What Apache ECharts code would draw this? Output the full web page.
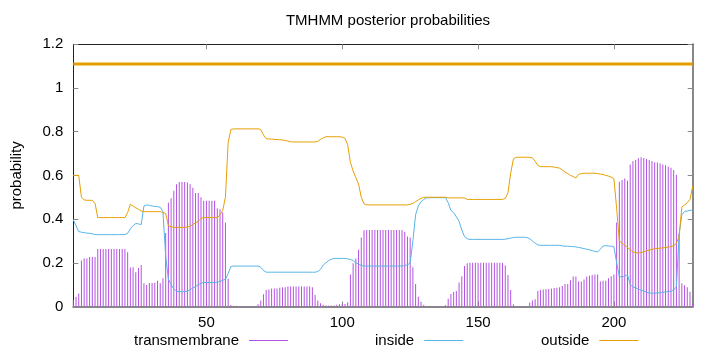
<!DOCTYPE html>
<html>
<head>
<meta charset="utf-8">
<script src="https://cdn.jsdelivr.net/npm/echarts@6/dist/echarts.min.js"></script>
<style>
  html, body { margin: 0; padding: 0; background: #fff; }
  #chart { width: 720px; height: 352px; }
</style>
</head>
<body>
<div id="chart"></div>
<script>
// posterior probability per residue (1..229)
const transmembrane = [
  0.03, 0.045, 0.06, 0.21, 0.22, 0.22, 0.227, 0.227, 0.227, 0.263,
  0.263, 0.263, 0.263, 0.263, 0.263, 0.263, 0.263, 0.263, 0.263, 0.263,
  0.248, 0.178, 0.18, 0.157, 0.176, 0.19, 0.106, 0.098, 0.107, 0.107,
  0.109, 0.118, 0.106, 0.129, 0.336, 0.475, 0.495, 0.53, 0.56, 0.57,
  0.57, 0.57, 0.568, 0.56, 0.544, 0.52, 0.52, 0.5, 0.484, 0.484,
  0.484, 0.484, 0.484, 0.45, 0.445, 0.43, 0.384, 0.127, 0.007, 0.004,
  0.003, 0.002, 0.002, 0.002, 0.002, 0.002, 0.002, 0.002, 0.01, 0.027,
  0.056, 0.075, 0.078, 0.082, 0.082, 0.082, 0.086, 0.088, 0.088, 0.092,
  0.092, 0.092, 0.092, 0.092, 0.092, 0.092, 0.092, 0.092, 0.088, 0.053,
  0.027, 0.015, 0.008, 0.005, 0.005, 0.005, 0.005, 0.008, 0.01, 0.011,
  0.012, 0.02, 0.147, 0.198, 0.22, 0.26, 0.316, 0.349, 0.35, 0.35,
  0.35, 0.35, 0.35, 0.35, 0.35, 0.35, 0.35, 0.35, 0.35, 0.35,
  0.35, 0.35, 0.342, 0.32, 0.316, 0.18, 0.103, 0.045, 0.022, 0.008,
  0.002, 0.002, 0.002, 0.002, 0.002, 0.002, 0.002, 0.006, 0.036, 0.057,
  0.066, 0.071, 0.11, 0.139, 0.185, 0.198, 0.2, 0.2, 0.2, 0.2,
  0.2, 0.2, 0.2, 0.2, 0.2, 0.2, 0.2, 0.2, 0.2, 0.188,
  0.144, 0.075, 0.01, 0.002, 0.002, 0.002, 0.002, 0.002, 0.018, 0.027,
  0.033, 0.072, 0.075, 0.078, 0.079, 0.08, 0.082, 0.085, 0.086, 0.088,
  0.094, 0.103, 0.103, 0.12, 0.137, 0.137, 0.114, 0.114, 0.124, 0.137,
  0.141, 0.144, 0.147, 0.147, 0.114, 0.118, 0.118, 0.129, 0.139, 0.147,
  0.385, 0.571, 0.579, 0.586, 0.576, 0.65, 0.666, 0.67, 0.678, 0.683,
  0.68, 0.675, 0.67, 0.666, 0.66, 0.659, 0.655, 0.65, 0.646, 0.64,
  0.635, 0.625, 0.603, 0.335, 0.106, 0.097, 0.088, 0.068, 0.01
];

const inside = [
  0.396, 0.37, 0.343, 0.34, 0.338, 0.336, 0.335, 0.333, 0.329, 0.329,
  0.329, 0.329, 0.329, 0.329, 0.329, 0.329, 0.329, 0.329, 0.329, 0.329,
  0.335, 0.355, 0.37, 0.38, 0.378, 0.375, 0.46, 0.465, 0.463, 0.46,
  0.458, 0.457, 0.454, 0.434, 0.23, 0.125, 0.1, 0.08, 0.07, 0.068,
  0.068, 0.068, 0.07, 0.077, 0.085, 0.09, 0.1, 0.106, 0.11, 0.11,
  0.11, 0.11, 0.11, 0.112, 0.115, 0.12, 0.124, 0.15, 0.183, 0.185,
  0.185, 0.185, 0.185, 0.185, 0.185, 0.185, 0.185, 0.185, 0.185, 0.18,
  0.165, 0.157, 0.157, 0.157, 0.157, 0.157, 0.157, 0.157, 0.157, 0.157,
  0.157, 0.157, 0.157, 0.157, 0.157, 0.157, 0.157, 0.157, 0.157, 0.157,
  0.16, 0.17, 0.19, 0.2, 0.21, 0.216, 0.22, 0.22, 0.22, 0.22,
  0.22, 0.218, 0.215, 0.21, 0.2, 0.195, 0.188, 0.185, 0.185, 0.185,
  0.185, 0.185, 0.185, 0.185, 0.185, 0.185, 0.185, 0.185, 0.185, 0.185,
  0.185, 0.185, 0.188, 0.19, 0.2, 0.3, 0.42, 0.46, 0.48, 0.49,
  0.497, 0.498, 0.498, 0.498, 0.498, 0.498, 0.498, 0.498, 0.475, 0.44,
  0.43, 0.41, 0.39, 0.35, 0.32, 0.31, 0.307, 0.307, 0.307, 0.307,
  0.307, 0.307, 0.307, 0.307, 0.307, 0.307, 0.307, 0.307, 0.307, 0.308,
  0.31, 0.313, 0.316, 0.317, 0.317, 0.317, 0.317, 0.316, 0.31, 0.3,
  0.29, 0.282, 0.28, 0.28, 0.28, 0.28, 0.28, 0.28, 0.28, 0.28,
  0.277, 0.276, 0.276, 0.275, 0.274, 0.273, 0.27, 0.268, 0.265, 0.262,
  0.26, 0.256, 0.252, 0.25, 0.262, 0.277, 0.278, 0.277, 0.276, 0.274,
  0.2, 0.137, 0.135, 0.14, 0.145, 0.1, 0.09, 0.085, 0.08, 0.075,
  0.07, 0.065, 0.062, 0.061, 0.061, 0.062, 0.063, 0.065, 0.067, 0.068,
  0.07, 0.075, 0.09, 0.33, 0.42, 0.435, 0.437, 0.44, 0.442
];

const outside = [
  0.6, 0.6, 0.6, 0.5, 0.488, 0.486, 0.486, 0.486, 0.472, 0.407,
  0.407, 0.407, 0.407, 0.407, 0.407, 0.407, 0.407, 0.407, 0.407, 0.407,
  0.43, 0.468, 0.46, 0.452, 0.445, 0.437, 0.434, 0.434, 0.434, 0.434,
  0.434, 0.434, 0.434, 0.43, 0.426, 0.37, 0.365, 0.362, 0.362, 0.362,
  0.362, 0.362, 0.364, 0.368, 0.375, 0.383, 0.39, 0.403, 0.407, 0.407,
  0.407, 0.407, 0.407, 0.407, 0.419, 0.44, 0.5, 0.75, 0.81, 0.813,
  0.813, 0.813, 0.813, 0.813, 0.813, 0.813, 0.813, 0.813, 0.813, 0.81,
  0.785, 0.768, 0.767, 0.766, 0.765, 0.764, 0.763, 0.762, 0.76, 0.757,
  0.754, 0.753, 0.753, 0.753, 0.753, 0.753, 0.753, 0.753, 0.753, 0.753,
  0.756, 0.765, 0.772, 0.777, 0.777, 0.777, 0.777, 0.777, 0.777, 0.775,
  0.77, 0.74, 0.66, 0.62, 0.59, 0.56, 0.5, 0.47, 0.465, 0.465,
  0.465, 0.465, 0.465, 0.465, 0.465, 0.465, 0.465, 0.465, 0.465, 0.465,
  0.465, 0.465, 0.465, 0.465, 0.468, 0.472, 0.48, 0.488, 0.495, 0.5,
  0.5, 0.5, 0.5, 0.5, 0.5, 0.5, 0.5, 0.5, 0.497, 0.497,
  0.497, 0.497, 0.497, 0.497, 0.497, 0.49, 0.49, 0.49, 0.49, 0.49,
  0.49, 0.49, 0.49, 0.49, 0.49, 0.49, 0.49, 0.49, 0.49, 0.495,
  0.52, 0.61, 0.675, 0.683, 0.683, 0.683, 0.683, 0.683, 0.683, 0.68,
  0.665, 0.645, 0.64, 0.64, 0.64, 0.64, 0.64, 0.638, 0.636, 0.633,
  0.625, 0.615, 0.608, 0.6, 0.595, 0.588, 0.605, 0.608, 0.61, 0.61,
  0.61, 0.61, 0.61, 0.608, 0.606, 0.604, 0.6, 0.597, 0.592, 0.585,
  0.45, 0.3, 0.29, 0.28, 0.27, 0.26, 0.25, 0.246, 0.245, 0.247,
  0.25, 0.255, 0.258, 0.262, 0.264, 0.266, 0.267, 0.268, 0.27, 0.272,
  0.274, 0.278, 0.29, 0.32, 0.455, 0.465, 0.475, 0.49, 0.55
];

// predicted topology: whole sequence outside
const topologySpan = [1, 229];
const topologyLevel = 1.11;

const xTicks = [50, 100, 150, 200];
const positions = transmembrane.map((_, i) => i + 1);

const FONT = "'Liberation Sans', Arial, sans-serif";
const chart = echarts.init(document.getElementById("chart"), null, { renderer: "canvas" });

const pairs = (vals) => positions.map((p, i) => [p, vals[i]]);

// gnuplot style key entry: text first, then the line sample
const legendItem = (name, color, left) => ({
  data: [{ name, icon: "rect", itemStyle: { color } }],
  left,
  top: 333,
  padding: 0,
  align: "right",
  itemWidth: 39,
  itemHeight: 1,
  textStyle: { fontFamily: FONT, fontSize: 15, color: "#000", padding: [0, 5, 0, 0] },
  selectedMode: false,
});

chart.setOption({
  animation: false,
  title: {
    text: "TMHMM posterior probabilities",
    left: 383,
    top: 8,
    textAlign: "center",
    textStyle: { fontFamily: FONT, fontSize: 15, fontWeight: "normal", color: "#000" },
  },
  legend: [
    legendItem("transmembrane", "#b452e2", 134),
    legendItem("inside", "#56b4e9", 375),
    legendItem("outside", "#e69f00", 541),
  ],
  grid: { left: 73.3, right: 27.3, top: 44.3, bottom: 45.5 },
  xAxis: [
    {
      type: "value",
      min: 1,
      max: 229,
      position: "bottom",
      axisLine: { onZero: false, lineStyle: { color: "#888", width: 2 } },
      axisTick: { inside: true, length: 5, customValues: xTicks, lineStyle: { color: "#888" } },
      axisLabel: { customValues: xTicks, margin: 9, fontFamily: FONT, fontSize: 15, color: "#000" },
      splitLine: { show: false },
    },
    {
      type: "value",
      min: 1,
      max: 229,
      position: "top",
      axisLine: { onZero: false, lineStyle: { color: "#222", width: 1 } },
      axisTick: { inside: true, length: 5, customValues: xTicks, lineStyle: { color: "#888" } },
      axisLabel: { show: false },
      splitLine: { show: false },
    },
  ],
  yAxis: [
    {
      type: "value",
      min: 0,
      max: 1.2,
      interval: 0.2,
      position: "left",
      name: "probability",
      nameLocation: "middle",
      nameRotate: 90,
      nameGap: 49,
      nameTextStyle: { fontFamily: FONT, fontSize: 15, color: "#000" },
      axisLine: { show: true, onZero: false, lineStyle: { color: "#222", width: 1 } },
      axisTick: { show: true, inside: true, length: 5, lineStyle: { color: "#888" } },
      axisLabel: { margin: 10, fontFamily: FONT, fontSize: 15, color: "#000" },
      splitLine: { show: false },
    },
    {
      type: "value",
      min: 0,
      max: 1.2,
      interval: 0.2,
      position: "right",
      axisLine: { show: true, onZero: false, lineStyle: { color: "#888", width: 2 } },
      axisTick: { show: true, inside: true, length: 5, lineStyle: { color: "#888" } },
      axisLabel: { show: false },
      splitLine: { show: false },
    },
  ],
  series: [
    {
      name: "transmembrane",
      type: "bar",
      data: pairs(transmembrane),
      barWidth: 1,
      itemStyle: { color: "#b452e2" },
      z: 1,
    },
    {
      name: "inside",
      type: "line",
      data: pairs(inside),
      symbol: "none",
      lineStyle: { color: "#56b4e9", width: 1 },
      itemStyle: { color: "#56b4e9" },
      z: 2,
    },
    {
      name: "outside",
      type: "line",
      data: pairs(outside),
      symbol: "none",
      lineStyle: { color: "#e69f00", width: 1 },
      itemStyle: { color: "#e69f00" },
      z: 2,
    },
    {
      name: "topology",
      type: "line",
      data: topologySpan.map((p) => [p, topologyLevel]),
      symbol: "none",
      lineStyle: { color: "#e69f00", width: 3 },
      z: 3,
    },
  ],
});
</script>
</body>
</html>
